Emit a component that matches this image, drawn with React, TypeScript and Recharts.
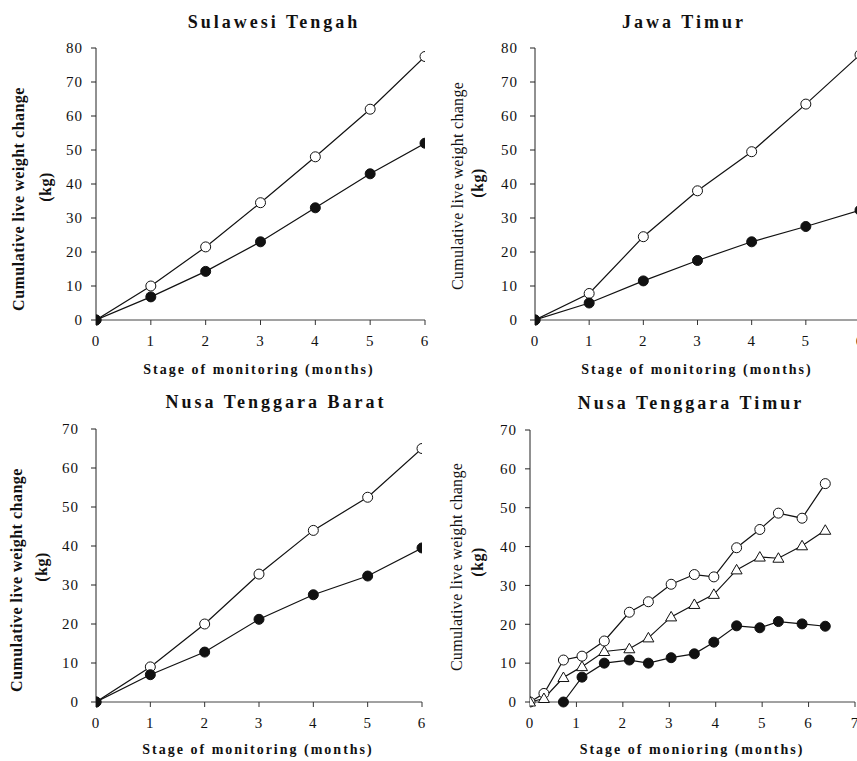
import React from "react"
import { LineChart, Line, XAxis, YAxis } from "recharts"

// months of monitoring (panels 1-3)
const months = [0, 1, 2, 3, 4, 5, 6]

const sulawesiOpen = [0, 10, 21.5, 34.5, 48, 62, 77.5]
const sulawesiFilled = [0, 6.8, 14.3, 23, 33, 43, 52]

const jawaOpen = [0, 7.8, 24.5, 38, 49.5, 63.5, 78]
const jawaFilled = [0, 5, 11.5, 17.5, 23, 27.5, 32.3]

const ntbOpen = [0, 9, 20, 32.8, 44, 52.5, 65]
const ntbFilled = [0, 7, 12.8, 21.2, 27.5, 32.3, 39.5]

// Nusa Tenggara Timur has its own, finer sampling
const nttMonths = [0, 0.3, 0.72, 1.12, 1.6, 2.14, 2.55, 3.04, 3.54, 3.96, 4.45, 4.95, 5.35, 5.86, 6.36]
const nttOpen = [0, 2.2, 10.8, 11.8, 15.7, 23.1, 25.8, 30.3, 32.8, 32.2, 39.7, 44.4, 48.6, 47.3, 56.2]
const nttTriangle = [0, 0.9, 6.3, 9.1, 13, 13.7, 16.5, 21.9, 25.1, 27.7, 34, 37.3, 37, 40.2, 44.2]
const nttFilled = [null, null, 0, 6.4, 10, 10.8, 10, 11.4, 12.4, 15.4, 19.6, 19.1, 20.7, 20.1, 19.5]

const ticks80 = [0, 10, 20, 30, 40, 50, 60, 70, 80]
const ticks70 = [0, 10, 20, 30, 40, 50, 60, 70]
const ticksX7 = [0, 1, 2, 3, 4, 5, 6, 7]

const serif = "Liberation Serif"

const tickStyle = { fontSize: 15, fill: "#111", fontFamily: serif, letterSpacing: 1 }

const openDot = { r: 5, fill: "#fff", stroke: "#111", strokeWidth: 1 }
const filledDot = { r: 5, fill: "#111", stroke: "#111", strokeWidth: 1 }

function TriangleDot(props: any) {
  const { cx, cy } = props
  if (cx == null || cy == null) return null
  return (
    <polygon
      points={`${cx},${cy - 5.5} ${cx - 5.5},${cy + 4} ${cx + 5.5},${cy + 4}`}
      fill="#fff"
      stroke="#111"
      strokeWidth={1}
    />
  )
}

function Title({ x, y, text }: { x: number; y: number; text: string }) {
  return (
    <div
      style={{
        position: "absolute",
        left: x,
        top: y,
        transform: "translate(-50%, -50%)",
        fontFamily: serif,
        fontWeight: "bold",
        fontSize: 18,
        letterSpacing: 3,
        whiteSpace: "nowrap",
        color: "#111",
      }}
    >
      {text}
    </div>
  )
}

function XTitle({ x, y, text }: { x: number; y: number; text: string }) {
  return (
    <div
      style={{
        position: "absolute",
        left: x,
        top: y,
        transform: "translate(-50%, -50%)",
        fontFamily: serif,
        fontWeight: "bold",
        fontSize: 14,
        letterSpacing: 2,
        whiteSpace: "nowrap",
        color: "#111",
      }}
    >
      {text}
    </div>
  )
}

function YTitle({ x, y, text, bold = true }: { x: number; y: number; text: string; bold?: boolean }) {
  return (
    <div
      style={{
        position: "absolute",
        left: x,
        top: y,
        transform: "translate(-50%, -50%) rotate(-90deg)",
        fontFamily: serif,
        fontWeight: bold ? "bold" : "normal",
        fontSize: 16,
        letterSpacing: bold ? 0.5 : 0.3,
        whiteSpace: "nowrap",
        color: "#111",
      }}
    >
      {text}
    </div>
  )
}

interface PanelProps {
  left: number
  top: number
  width: number
  height: number
  margin: { top: number; right: number; bottom: number; left: number }
  yWidth: number
  yMax: number
  yTicks: number[]
  xMax: number
  xTicks: number[]
  data: any[]
  yTickMargin: number
  children: React.ReactNode
}

function Panel({ left, top, width, height, margin, yWidth, yMax, yTicks, xMax, xTicks, data, yTickMargin, children }: PanelProps) {
  return (
    <div style={{ position: "absolute", left, top, width, height }}>
      <LineChart width={width} height={height} data={data} margin={margin}>
        <XAxis
          type="number"
          dataKey="month"
          domain={[0, xMax]}
          ticks={xTicks}
          allowDataOverflow
          height={30}
          tick={tickStyle}
          tickSize={5}
          tickMargin={10}
          stroke="#444"
          tickLine={{ stroke: "#333" }}
          interval={0}
        />
        <YAxis
          type="number"
          domain={[0, yMax]}
          ticks={yTicks}
          width={yWidth}
          tick={tickStyle}
          tickSize={5}
          tickMargin={yTickMargin}
          stroke="#222"
          interval={0}
        />
        {children}
      </LineChart>
    </div>
  )
}

export default function App() {
  const sulawesiData = months.map((m, i) => ({ month: m, open: sulawesiOpen[i], filled: sulawesiFilled[i] }))
  const jawaData = months.map((m, i) => ({ month: m, open: jawaOpen[i], filled: jawaFilled[i] }))
  const ntbData = months.map((m, i) => ({ month: m, open: ntbOpen[i], filled: ntbFilled[i] }))
  const nttData = nttMonths.map((m, i) => ({
    month: m,
    open: nttOpen[i],
    triangle: nttTriangle[i],
    filled: nttFilled[i],
  }))

  return (
    <div
      style={{
        position: "absolute",
        left: 0,
        top: 0,
        width: 857,
        height: 761,
        overflow: "hidden",
        background: "#fff",
      }}
    >
      {/* Sulawesi Tengah */}
      <Panel
        left={0}
        top={0}
        width={432}
        height={380}
        margin={{ top: 48, right: 7, bottom: 30, left: 0 }}
        yWidth={96}
        yMax={80}
        yTicks={ticks80}
        xMax={6}
        xTicks={months}
        data={sulawesiData}
        yTickMargin={8}
      >
        <Line type="linear" dataKey="open" stroke="#111" strokeWidth={1.2} dot={openDot} isAnimationActive={false} />
        <Line type="linear" dataKey="filled" stroke="#111" strokeWidth={1.2} dot={filledDot} isAnimationActive={false} />
      </Panel>
      <Title x={274} y={22} text="Sulawesi Tengah" />
      <XTitle x={259} y={370} text="Stage of monitoring (months)" />
      <YTitle x={19} y={199} text="Cumulative live weight change" />
      <YTitle x={46} y={187} text="(kg)" />

      {/* Jawa Timur */}
      <Panel
        left={430}
        top={0}
        width={438}
        height={380}
        margin={{ top: 48, right: 8, bottom: 30, left: 0 }}
        yWidth={105}
        yMax={80}
        yTicks={ticks80}
        xMax={6}
        xTicks={months}
        data={jawaData}
        yTickMargin={12}
      >
        <Line type="linear" dataKey="open" stroke="#111" strokeWidth={1.2} dot={openDot} isAnimationActive={false} />
        <Line type="linear" dataKey="filled" stroke="#111" strokeWidth={1.2} dot={filledDot} isAnimationActive={false} />
      </Panel>
      <Title x={684} y={22} text="Jawa Timur" />
      <XTitle x={697} y={370} text="Stage of monitoring (months)" />
      <YTitle x={458} y={186} text="Cumulative live weight change" bold={false} />
      <YTitle x={478} y={183} text="(kg)" />

      {/* Nusa Tenggara Barat */}
      <Panel
        left={0}
        top={380}
        width={432}
        height={380}
        margin={{ top: 49, right: 10, bottom: 28, left: 0 }}
        yWidth={96}
        yMax={70}
        yTicks={ticks70}
        xMax={6}
        xTicks={months}
        data={ntbData}
        yTickMargin={12}
      >
        <Line type="linear" dataKey="open" stroke="#111" strokeWidth={1.2} dot={openDot} isAnimationActive={false} />
        <Line type="linear" dataKey="filled" stroke="#111" strokeWidth={1.2} dot={filledDot} isAnimationActive={false} />
      </Panel>
      <Title x={276} y={402} text="Nusa Tenggara Barat" />
      <XTitle x={258} y={750} text="Stage of monitoring (months)" />
      <YTitle x={17} y={580} text="Cumulative live weight change" />
      <YTitle x={42} y={567} text="(kg)" />

      {/* Nusa Tenggara Timur */}
      <Panel
        left={430}
        top={380}
        width={432}
        height={380}
        margin={{ top: 50, right: 7, bottom: 28, left: 0 }}
        yWidth={100}
        yMax={70}
        yTicks={ticks70}
        xMax={7}
        xTicks={ticksX7}
        data={nttData}
        yTickMargin={8}
      >
        <Line type="linear" dataKey="open" stroke="#111" strokeWidth={1.2} dot={openDot} isAnimationActive={false} />
        <Line
          type="linear"
          dataKey="triangle"
          stroke="#111"
          strokeWidth={1.2}
          dot={(p: any) => <TriangleDot key={`tri-${p.index}`} {...p} />}
          isAnimationActive={false}
        />
        <Line type="linear" dataKey="filled" stroke="#111" strokeWidth={1.2} dot={filledDot} isAnimationActive={false} />
      </Panel>
      <Title x={691} y={403} text="Nusa Tenggara Timur" />
      <XTitle x={692} y={750} text="Stage of monioring (months)" />
      <YTitle x={457} y={567} text="Cumulative live weight change" bold={false} />
      <YTitle x={478} y={562} text="(kg)" />
    </div>
  )
}
